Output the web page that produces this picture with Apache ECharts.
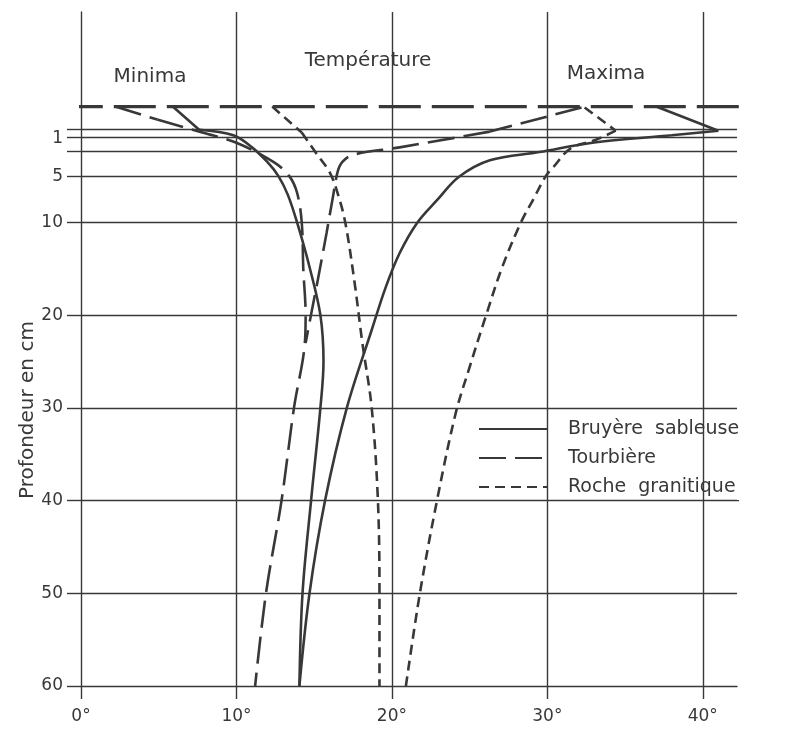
<!DOCTYPE html>
<html><head><meta charset="utf-8">
<script src="https://cdn.jsdelivr.net/npm/echarts@6/dist/echarts.min.js"></script>
<style>html,body{margin:0;padding:0;background:#fff}#c{width:788px;height:734px}</style>
</head><body><div id="c"></div>
<script>
// ---- data (temperature °C, depth cm) ----
const surfaceDepth = -2.5;
const surfaceLine = [[-1.3, -2.5], [42.9, -2.5]];
const line40 = [[42.2, 40], [45.2, 40]];
const levelLines = [0, 0.8, 2.3, 5, 10, 20, 30, 40, 50];
const depthTickValues = [0, 0.8, 2.3, 5, 10, 20, 30, 40, 50, 60];
const depthLabels = [1, 5, 10, 20, 30, 40, 50, 60];
const tempTicks = [0, 10, 20, 30, 40];
const tempGrid = [10, 20, 30, 40];
const legendNames = ['Bruyère sableuse', 'Tourbière', 'Roche granitique'];

const bruyereMin = [[5.9,-2.5],[7.6,0],[9.8,0.6],[11.0,1.9],[12.0,3.5],[12.7,5],[13.3,7],[13.9,10],[14.7,14.8],[15.4,20],[15.6,25],[15.4,30],[14.8,40],[14.25,50],[14.05,60]];
const bruyereMax = [[37.0,-2.5],[41.0,0.1],[38.0,0.6],[32.9,1.4],[29.5,2.4],[26.3,3.3],[24.3,5.1],[22.9,7.6],[21.6,10.1],[20.5,13.3],[19.6,17],[18.7,21.6],[17.1,30],[15.7,40],[14.7,50],[14.05,60]];
const tourbiereMin = [[2.2,-2.5],[4.9,-1.1],[7.8,0.3],[10.0,1.4],[12.4,3.5],[13.4,5],[13.9,6.8],[14.2,10],[14.3,15],[14.45,20],[14.4,23],[13.7,30],[12.9,40],[11.9,50],[11.2,60]];
const tourbiereMax = [[32.2,-2.4],[26.3,0.2],[20.5,1.9],[17.5,2.7],[16.8,3.5],[16.5,4.6],[16.2,7.3],[15.8,11.1],[15.2,16.5],[14.85,19.5],[14.45,23]];
const rocheMin = [[12.3,-2.5],[14.2,0.3],[15.2,2.7],[16.0,4.6],[16.5,6.8],[17.0,10],[17.6,16.5],[18.1,23],[18.7,30],[19.1,40],[19.2,50],[19.2,60]];
const rocheMax = [[32.4,-2.4],[34.4,0.1],[33.1,1.1],[31.5,2.0],[30.4,4.0],[29.9,5.0],[29.1,7.5],[28.3,10],[27.1,14.8],[26.1,19.8],[25.0,25.6],[24.1,30.6],[22.9,40],[21.8,50],[20.9,60]];

// ---- styles ----
const ink = '#383838';
const FONT = 'DejaVu Sans';

function curve(name, pts, dash) {
  const ls = { color: ink, width: 2.6, type: dash, cap: 'butt' };
  const it = { color: ink };
  return [
    { name, type: 'line', data: pts.slice(0, 2), symbol: 'none', lineStyle: ls, itemStyle: it, z: 3, silent: true },
    { name, type: 'line', data: pts.slice(1), symbol: 'none', smooth: 0.35, lineStyle: ls, itemStyle: it, z: 3, silent: true }
  ];
}
function txt(text, x, y, size, rot) {
  return { type: 'text', x, y, rotation: rot || 0, z: 5,
    style: { text, fill: ink, fontSize: size, fontFamily: FONT, align: 'center', verticalAlign: 'middle', textAlign: 'center', textVerticalAlign: 'middle' } };
}

const chart = echarts.init(document.getElementById('c'), null, { renderer: 'canvas' });
chart.setOption({
  animation: false,
  backgroundColor: '#fff',
  grid: { left: 81, right: 51, top: 12, bottom: 48 },
  xAxis: {
    type: 'value', min: 0, max: 42.2, interval: 10,
    axisLine: { onZero: false, lineStyle: { color: ink, width: 1.4 } },
    axisTick: { customValues: tempTicks, length: 13, lineStyle: { color: ink, width: 1.4 } },
    axisLabel: { customValues: tempTicks, margin: 22, color: ink, fontSize: 17, fontFamily: FONT,
      formatter: v => (v % 10 === 0 ? v + '°' : '') },
    splitLine: { show: false }
  },
  yAxis: {
    type: 'value', inverse: true, min: -12.7, max: 60,
    axisLine: { show: true, onZero: false, lineStyle: { color: ink, width: 1.4 } },
    axisTick: { show: true, customValues: depthTickValues, length: 14, lineStyle: { color: ink, width: 1.4 } },
    axisLabel: { customValues: depthLabels, margin: 18, color: ink, fontSize: 17, fontFamily: FONT },
    splitLine: { show: false }
  },
  legend: {
    data: legendNames, orient: 'vertical', left: 478, top: 419,
    itemWidth: 68, itemHeight: 12, itemGap: 9, padding: 0, selectedMode: false,
    itemStyle: { color: 'rgba(0,0,0,0)', borderWidth: 0, opacity: 0 },
    formatter: n => n.replace(' ', '  '),
    textStyle: { fontSize: 19, fontFamily: FONT, color: ink, padding: [0, 0, 0, 16], lineHeight: 20 }
  },
  graphic: [
    { type: 'rect', z: 2, shape: { x: 552, y: 413, width: 236, height: 84 }, style: { fill: '#fff' } },
    txt('Minima', 150, 77, 20),
    txt('Température', 368, 61, 20),
    txt('Maxima', 606, 74, 20),
    txt('Profondeur en cm', 28, 410, 20, Math.PI / 2)
  ],
  series: [
    {
      name: 'grille', type: 'line', data: [[0, 60]], symbol: 'none', lineStyle: { width: 0 }, silent: true, z: 1,
      markLine: {
        silent: true, symbol: 'none', label: { show: false }, animation: false,
        lineStyle: { color: ink, width: 1.4, type: 'solid' },
        data: [
          ...tempGrid.map(v => ({ xAxis: v })),
          ...levelLines.map(v => ({ yAxis: v }))
        ]
      }
    },
    { name: 'surface', type: 'line', data: surfaceLine, symbol: 'none', clip: false, silent: true, z: 2,
      lineStyle: { color: ink, width: 3.2, type: [42, 11] } },
    { name: 'ligne40', type: 'line', data: line40, symbol: 'none', clip: false, silent: true, z: 4,
      lineStyle: { color: ink, width: 1.4 } },
    ...curve('Bruyère sableuse', bruyereMin, 'solid'),
    ...curve('Bruyère sableuse', bruyereMax, 'solid'),
    ...curve('Tourbière', tourbiereMin, [27, 9]),
    ...curve('Tourbière', tourbiereMax, [27, 9]),
    ...curve('Roche granitique', rocheMin, [10, 6]),
    ...curve('Roche granitique', rocheMax, [10, 6])
  ]
});
</script>
</body></html>
